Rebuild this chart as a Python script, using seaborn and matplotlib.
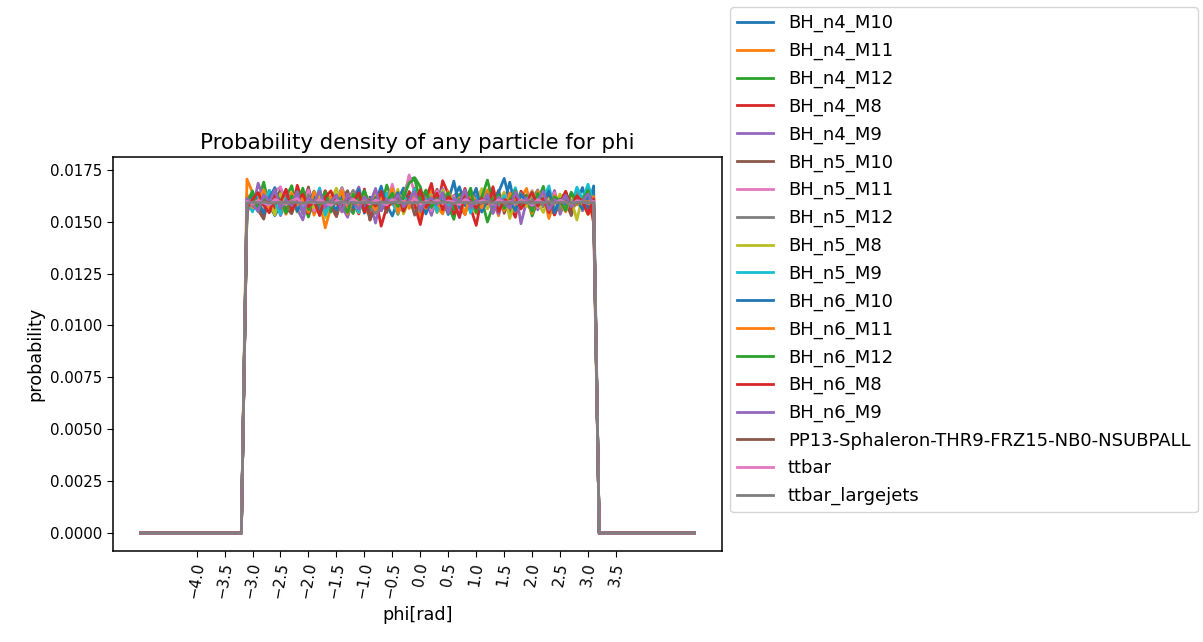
import numpy as np
import pandas as pd
import matplotlib
matplotlib.use("Agg")
import matplotlib.pyplot as plt
import seaborn as sns

# bin positions (phi, rad): -5.0 ... 4.9 in steps of 0.1
phi_bins = np.round(np.arange(-5.0, 5.0, 0.1), 1)
xtick_values = np.round(np.arange(-4.0, 4.0, 0.5), 1)

series_names = [
    "BH_n4_M10", "BH_n4_M11", "BH_n4_M12", "BH_n4_M8", "BH_n4_M9",
    "BH_n5_M10", "BH_n5_M11", "BH_n5_M12", "BH_n5_M8", "BH_n5_M9",
    "BH_n6_M10", "BH_n6_M11", "BH_n6_M12", "BH_n6_M8", "BH_n6_M9",
    "PP13-Sphaleron-THR9-FRZ15-NB0-NSUBPALL", "ttbar", "ttbar_largejets",
]

# probabilities in units of 1e-5, for bins -3.1 ... 3.1 (outside: 0)
bh_n4_m10 = [1565,1612,1548,1631,1590,1529,1583,1644,1557,1602,1621,1536,1578,1639,1594,1550,1611,1655,1562,1588,1541,1627,1600,1553,1648,1581,1527,1606,1662,1570,1595,1633,1549,1589,1641,1603,1534,1615,1668,1577,1556,1624,1592,1650,1545,1608,1584,1690,1566,1597,1629,1542,1603,1657,1580,1533,1611,1638,1571,1599,1664,1558,1672]
bh_n4_m11 = [1705,1640,1573,1536,1619,1558,1652,1587,1544,1613,1580,1641,1531,1600,1470,1569,1628,1547,1609,1586,1651,1556,1532,1617,1572,1638,1594,1545,1630,1563,1614,1518,1597,1655,1571,1537,1623,1588,1557,1642,1596,1539,1648,1576,1604,1528,1633,1590,1559,1612,1660,1545,1583,1631,1515,1602,1571,1645,1551,1619,1593,1534,1568]
bh_n4_m12 = [1551,1640,1598,1690,1569,1534,1655,1617,1673,1560,1593,1522,1628,1575,1647,1546,1604,1664,1580,1539,1633,1590,1556,1620,1571,1676,1601,1535,1636,1702,1712,1668,1561,1615,1544,1650,1577,1511,1632,1596,1661,1553,1606,1498,1578,1640,1592,1542,1654,1572,1626,1527,1600,1670,1549,1612,1583,1641,1538,1609,1562,1632,1595]
bh_n4_m8 = [1540,1622,1585,1520,1651,1566,1601,1638,1548,1675,1590,1539,1613,1563,1649,1596,1526,1633,1574,1607,1537,1657,1509,1618,1478,1570,1636,1598,1545,1645,1578,1486,1611,1684,1556,1697,1634,1537,1592,1660,1566,1482,1619,1590,1668,1552,1605,1578,1521,1647,1599,1546,1624,1573,1642,1532,1600,1627,1555,1613,1583,1652,1490]
bh_n4_m9 = [1604,1556,1685,1609,1573,1640,1529,1598,1627,1560,1508,1617,1581,1655,1546,1602,1631,1572,1521,1611,1667,1563,1595,1493,1622,1577,1651,1541,1606,1588,1638,1554,1600,1530,1624,1659,1568,1598,1519,1643,1579,1607,1549,1646,1594,1537,1618,1582,1658,1490,1599,1629,1557,1612,1576,1650,1535,1603,1590,1641,1552,1615,1579]
bh_n5_m10 = [1583,1611,1556,1512,1630,1594,1652,1566,1538,1615,1589,1667,1549,1598,1635,1575,1524,1613,1649,1559,1596,1633,1507,1578,1612,1544,1645,1592,1568,1621,1531,1599,1638,1577,1656,1550,1595,1626,1572,1535,1634,1597,1561,1613,1590,1651,1540,1606,1576,1640,1594,1546,1618,1582,1648,1553,1607,1593,1529,1624,1579,1600,1563]
bh_n5_m11 = [1610,1575,1633,1595,1544,1646,1668,1592,1561,1617,1583,1652,1551,1600,1629,1570,1597,1661,1545,1616,1581,1638,1596,1538,1622,1588,1680,1568,1604,1725,1640,1576,1612,1553,1647,1594,1569,1625,1540,1609,1590,1659,1560,1620,1597,1571,1642,1589,1549,1628,1598,1650,1567,1613,1582,1639,1554,1601,1593,1644,1566,1619,1596]
bh_n5_m12 = [1572,1618,1591,1546,1637,1601,1563,1654,1580,1610,1537,1629,1595,1558,1642,1588,1613,1549,1599,1651,1573,1626,1592,1540,1611,1582,1643,1559,1606,1594,1662,1547,1620,1577,1600,1639,1555,1612,1589,1647,1542,1603,1579,1635,1596,1561,1622,1592,1550,1637,1581,1608,1653,1571,1598,1625,1552,1612,1587,1644,1575,1600,1617]
bh_n5_m8 = [1560,1624,1578,1650,1598,1533,1635,1582,1612,1546,1642,1593,1566,1627,1519,1603,1661,1575,1599,1634,1543,1618,1590,1648,1555,1609,1581,1656,1537,1601,1637,1569,1597,1628,1549,1652,1594,1574,1614,1540,1631,1596,1659,1561,1607,1580,1640,1515,1599,1625,1571,1646,1591,1544,1612,1585,1633,1558,1604,1508,1623,1593,1570]
bh_n5_m9 = [1599,1547,1623,1576,1651,1592,1535,1611,1581,1644,1559,1605,1589,1662,1532,1598,1629,1570,1613,1594,1545,1648,1577,1608,1555,1637,1590,1540,1617,1596,1657,1566,1600,1625,1550,1640,1580,1612,1593,1650,1542,1615,1584,1634,1598,1557,1626,1591,1663,1568,1602,1641,1579,1611,1672,1552,1597,1632,1575,1666,1607,1680,1586]
bh_n6_m10 = [1578,1635,1595,1540,1614,1664,1563,1600,1633,1549,1606,1584,1647,1530,1612,1592,1556,1631,1597,1568,1655,1541,1618,1590,1671,1570,1602,1640,1552,1617,1593,1652,1537,1611,1580,1636,1599,1695,1567,1629,1594,1660,1546,1605,1585,1641,1708,1601,1553,1630,1596,1570,1615,1591,1648,1543,1609,1582,1637,1598,1561,1623,1592]
bh_n6_m11 = [1631,1567,1600,1652,1548,1617,1592,1535,1640,1583,1607,1546,1645,1595,1569,1624,1589,1650,1537,1611,1578,1637,1597,1556,1619,1592,1659,1542,1603,1577,1641,1600,1564,1622,1594,1548,1647,1584,1614,1533,1634,1598,1566,1653,1590,1618,1553,1639,1595,1574,1612,1540,1645,1601,1563,1626,1591,1547,1636,1580,1609,1588,1621]
bh_n6_m12 = [1592,1648,1550,1614,1579,1639,1600,1541,1624,1590,1661,1557,1605,1582,1643,1566,1620,1596,1544,1632,1593,1649,1570,1611,1552,1599,1637,1573,1615,1686,1705,1600,1652,1568,1622,1589,1640,1558,1608,1597,1645,1545,1616,1700,1594,1628,1563,1603,1649,1577,1612,1549,1636,1595,1574,1619,1598,1553,1642,1588,1605,1651,1569]
bh_n6_m8 = [1566,1607,1640,1578,1543,1625,1594,1656,1554,1601,1632,1572,1598,1530,1617,1648,1588,1565,1623,1596,1639,1546,1604,1575,1645,1562,1599,1628,1550,1613,1590,1653,1569,1600,1637,1557,1619,1593,1522,1634,1598,1564,1611,1587,1649,1548,1606,1594,1627,1561,1599,1641,1575,1612,1544,1601,1590,1646,1567,1624,1596,1536,1610]
bh_n6_m9 = [1612,1580,1551,1630,1596,1654,1565,1602,1578,1641,1540,1617,1591,1648,1568,1599,1626,1547,1633,1594,1560,1619,1586,1660,1552,1607,1593,1629,1572,1601,1645,1556,1597,1614,1583,1639,1541,1610,1595,1652,1566,1603,1588,1632,1539,1618,1596,1563,1643,1591,1613,1576,1599,1647,1555,1606,1589,1627,1571,1601,1597,1634,1582]
pp13_sphaleron = [1591,1594,1589,1596,1592,1588,1595,1590,1593,1597,1589,1592,1594,1590,1596,1591,1588,1593,1595,1590,1592,1597,1589,1594,1591,1593,1588,1596,1592,1590,1595,1589,1593,1591,1596,1590,1594,1588,1592,1595,1591,1589,1594,1592,1597,1590,1593,1588,1595,1591,1592,1594,1589,1596,1590,1593,1591,1595,1588,1592,1594,1590,1593]
ttbar = [1598,1585,1603,1590,1579,1607,1594,1586,1600,1611,1583,1596,1589,1605,1592,1578,1601,1595,1587,1608,1590,1599,1584,1604,1593,1581,1606,1592,1597,1588,1610,1585,1598,1591,1603,1587,1600,1594,1582,1607,1593,1589,1601,1596,1584,1605,1591,1598,1586,1602,1594,1580,1606,1590,1597,1588,1603,1592,1585,1600,1595,1589,1598]
ttbar_largejets = [1590,1593,1591,1595,1589,1592,1594,1590,1596,1591,1588,1593,1595,1590,1592,1594,1589,1596,1591,1593,1590,1595,1592,1588,1594,1591,1593,1596,1590,1592,1589,1595,1591,1594,1590,1593,1592,1588,1595,1591,1594,1590,1592,1596,1589,1593,1591,1594,1590,1595,1592,1589,1593,1591,1596,1590,1594,1592,1588,1593,1595,1591,1592]

plateaus = [bh_n4_m10, bh_n4_m11, bh_n4_m12, bh_n4_m8, bh_n4_m9,
            bh_n5_m10, bh_n5_m11, bh_n5_m12, bh_n5_m8, bh_n5_m9,
            bh_n6_m10, bh_n6_m11, bh_n6_m12, bh_n6_m8, bh_n6_m9,
            pp13_sphaleron, ttbar, ttbar_largejets]
lens = [len(p) for p in plateaus]
if any(l != 63 for l in lens):
    raise ValueError(f"lengths: {lens}")

frames = []
for name, plat in zip(series_names, plateaus):
    prob = np.array([0.0] * 19 + list(plat) + [0.0] * 18) * 1e-5
    frames.append(pd.DataFrame({"phi": phi_bins, "probability": prob, "sample": name}))
df = pd.concat(frames, ignore_index=True)

tab10 = sns.color_palette("tab10", 10)
palette = [tab10[i % 10] for i in range(len(series_names))]

plt.rcParams["font.family"] = ["DejaVu Sans"]
plt.rcParams["font.size"] = 10.6
plt.rcParams["axes.linewidth"] = 1.1
plt.rcParams["xtick.major.size"] = 4.0
plt.rcParams["ytick.major.size"] = 4.0

DPI = 100
fig = plt.figure(figsize=(12.03, 6.42), dpi=DPI)
ax = fig.add_axes([113 / 1203, 1 - 551 / 642, (722 - 113) / 1203, (551 - 157) / 642])

sns.lineplot(data=df, x="phi", y="probability", hue="sample", hue_order=series_names,
             palette=palette, ax=ax, linewidth=2.0, legend=True)

ax.set_xticks(xtick_values)
ax.set_xticklabels([f"{v:.1f}".replace("-", "\u2212") for v in xtick_values], rotation=80)
ax.tick_params(labelsize=10.8)
ax.set_xlabel("phi[rad]", fontsize=12.7)
ax.set_ylabel("probability", fontsize=12.7)
ax.set_title("Probability density of any particle for phi", fontsize=15.4)

handles, labels = ax.get_legend_handles_labels()
ax.get_legend().remove()
fig.legend(handles, labels, loc="upper left", bbox_to_anchor=(730 / 1203, 1 - 7 / 642),
           fontsize=13.0, labelspacing=0.53, borderaxespad=0, frameon=True)

fig.savefig("out.png", dpi=DPI)
